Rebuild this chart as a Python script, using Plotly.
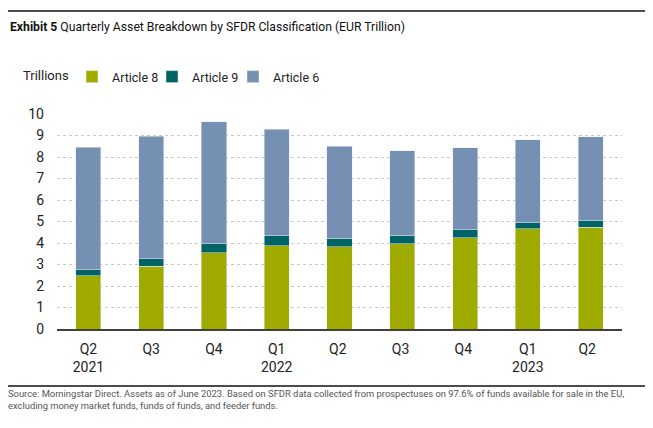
import plotly.graph_objects as go

categories = ["Q2<br>2021", "Q3", "Q4", "Q1<br>2022", "Q2 ", "Q3 ", "Q4 ", "Q1<br>2023", "Q2  "]
article8 = [2.48, 2.93, 3.54, 3.87, 3.82, 3.96, 4.25, 4.67, 4.74]
article9 = [0.28, 0.33, 0.42, 0.46, 0.40, 0.40, 0.36, 0.27, 0.30]
article6 = [5.70, 5.70, 5.67, 4.97, 4.27, 3.93, 3.82, 3.86, 3.90]

FONT = "Roboto, Liberation Sans, sans-serif"

fig = go.Figure()
fig.add_bar(x=categories, y=article8, name="Article 8", marker_color="#a0ab00", legend="legend")
fig.add_bar(x=categories, y=article9, name="Article 9", marker_color="#006466", legend="legend2")
fig.add_bar(x=categories, y=article6, name="Article 6", marker_color="#7690b3", legend="legend3")

OFF = 8  # page body margin
W, H = 653 - OFF, 428 - OFF
L, R, T, B = 57 - OFF, 31, 114 - OFF, 99
pw, ph = W - L - R, H - T - B

def px_x(x):
    return (x - OFF - L) / pw

def px_y(y):
    return (H - B - (y - OFF)) / ph

def leg(xpage):
    return dict(
        orientation="h", x=px_x(xpage), xanchor="left", y=px_y(77), yanchor="middle",
        font=dict(size=12.5, color="#222"), itemwidth=30,
        bgcolor="rgba(0,0,0,0)",
    )

fig.update_layout(
    width=W, height=H,
    barmode="stack", bargap=0.6,
    paper_bgcolor="white", plot_bgcolor="white",
    margin=dict(l=L, r=R, t=T, b=B),
    font=dict(family=FONT, size=14, color="#222"),
    legend=leg(72), legend2=leg(152), legend3=leg(233),
    xaxis=dict(
        showgrid=False, showline=True, linecolor="#404040", linewidth=1.5,
        ticks="", tickfont=dict(size=14, color="#222"), ticklabelstandoff=6,
        fixedrange=True,
    ),
    yaxis=dict(
        range=[0, 10], dtick=1, showgrid=True, gridcolor="#c8c8c8", griddash="dot",
        gridwidth=1, zeroline=False, ticks="", tickfont=dict(size=14, color="#222"),
        ticklabelstandoff=12, fixedrange=True,
    ),
    showlegend=True,
)

fig.add_annotation(
    text="<b>Exhibit 5</b> Quarterly Asset Breakdown by SFDR Classification (EUR Trillion)",
    xref="paper", yref="paper", x=px_x(8), y=px_y(27),
    xanchor="left", yanchor="middle", showarrow=False,
    font=dict(size=12.2, color="#111"),
)

fig.add_annotation(
    text="Trillions", xref="paper", yref="paper", x=px_x(21), y=px_y(75),
    xanchor="left", yanchor="middle", showarrow=False,
    font=dict(size=13, color="#222"),
)

fig.add_annotation(
    text="Source: Morningstar Direct. Assets as of June 2023. Based on SFDR data collected from prospectuses on 97.6% of funds available for sale in the EU,<br>excluding money market funds, funds of funds, and feeder funds.",
    xref="paper", yref="paper", x=px_x(6), y=px_y(386), xanchor="left", yanchor="top",
    align="left", showarrow=False, font=dict(size=9.4, color="#555"),
)

for yy in (11, 386):
    fig.add_shape(type="line", xref="paper", yref="paper",
                  x0=px_x(8), x1=px_x(653), y0=px_y(yy), y1=px_y(yy),
                  line=dict(color="#111", width=1.5))

fig.write_html("out.html")
